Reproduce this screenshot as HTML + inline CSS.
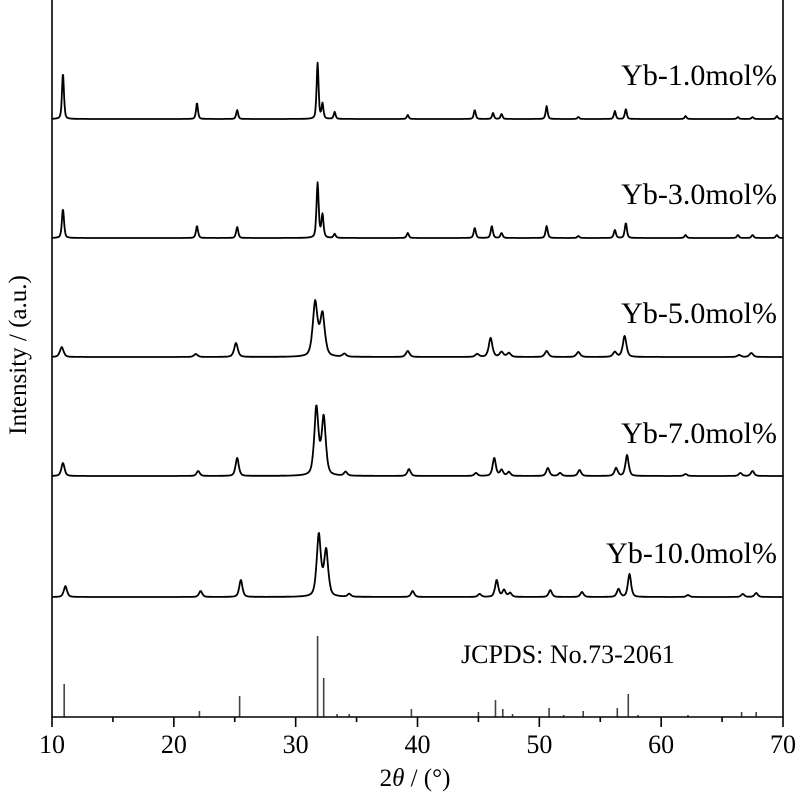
<!DOCTYPE html>
<html><head><meta charset="utf-8"><style>
html,body{margin:0;padding:0;background:#fff;}
svg{display:block;font-family:"Liberation Serif",serif;}
</style></head><body>
<svg id="chart" width="800" height="797" viewBox="0 0 800 797" xmlns="http://www.w3.org/2000/svg">
<g id="traces"></g>
<g id="refs"></g>
<g id="axes"></g>
<g id="labels"></g>
<text x="461" y="663" font-size="26" font-family="Liberation Serif,serif">JCPDS: No.73-2061</text>
<text x="415" y="786" text-anchor="middle" font-size="25" font-family="Liberation Serif,serif">2<tspan font-style="italic">θ</tspan> / (°)</text>
<text transform="translate(26,355) rotate(-90)" text-anchor="middle" font-size="25" font-family="Liberation Serif,serif">Intensity / (a.u.)</text>
</svg>
<script>
const xTicks=[10,20,30,40,50,60,70];
const xMinor=[15,25,35,45,55,65];
const sampleNames=["Yb-1.0mol%","Yb-3.0mol%","Yb-5.0mol%","Yb-7.0mol%","Yb-10.0mol%"];
const offsets=[119,238,357,476,597];
const labelY=[85,204,323,443,563];
const widths=[0.09,0.1,0.17,0.15,0.15];
const pos1=[10.9,21.9,25.2,31.8,32.2,33.2,39.2,44.7,46.2,46.9,50.6,53.2,56.2,57.1,62,66.3,67.5,69.5];
const h1=[46,16,9,56,15,7,4,9,6,5,13,2,8,10,3,2,2,3];
const pos2=[10.9,21.9,25.2,31.8,32.2,33.2,39.2,44.7,46.1,46.9,50.6,53.2,56.2,57.1,62,66.3,67.5,69.5];
const h2=[29,12,11,55,23,4,5,10,12,5,12,2,8,15,3,3,3,3];
const pos3=[10.8,21.8,25.1,31.6,32.2,34,39.2,44.9,46.0,46.9,47.5,50.6,53.2,56.2,57.0,66.4,67.4];
const h3=[10,3,14,54,42,3,6,3,19,5,4,6,5,5,21,2,4];
const pos4=[10.9,22,25.2,31.7,32.3,34.1,39.3,44.8,46.3,46.9,47.5,50.7,51.7,53.3,56.3,57.2,62,66.5,67.5];
const h4=[13,5,18,68,58,4,7,3,18,6,4,8,3,6,8,21,2,3,5];
const pos5=[11.1,22.2,25.5,31.9,32.5,34.4,39.6,45.1,46.5,47.1,47.6,50.9,53.5,56.5,57.4,62.2,66.7,67.8];
const h5=[11,6,17,62,46,3,6,3,17,7,4,7,5,8,23,2,3,4];
const peakPos=[pos1,pos2,pos3,pos4,pos5];
const peakH=[h1,h2,h3,h4,h5];
const refPos=[11.0,22.1,25.4,31.8,32.3,33.4,34.4,39.5,45.0,46.4,47.0,47.8,50.8,52.0,53.6,56.4,57.3,58.1,62.2,66.6,67.8];
const refH=[33,6,21,81,39,3,3,8,5,17,8,3,9,2,6,9,23,2,2,5,5];
const refBase=717;

const NS="http://www.w3.org/2000/svg";
const X0=52,X1=783,Y0=0,YB=717;
function xs(v){return X0+(v-10)/(70-10)*(X1-X0);}
function mk(t,a,p){const e=document.createElementNS(NS,t);for(const k in a)e.setAttribute(k,a[k]);p.appendChild(e);return e;}
const gT=document.getElementById('traces'),gR=document.getElementById('refs'),gA=document.getElementById('axes'),gL=document.getElementById('labels');

peakPos.forEach((ps,i)=>{
  let d="";
  for(let x=10;x<=70.001;x+=0.04){
    let y=0;
    ps.forEach((p,j)=>{const w=widths[i]*(p>30&&p<33&&i>=2?1.3:1);const u=(x-p)/w;y+=peakH[i][j]/(1+u*u*1.2)*0.6+peakH[i][j]*Math.exp(-u*u/2)*0.4;});
    d+=(d?"L":"M")+xs(x).toFixed(1)+","+(offsets[i]-y).toFixed(1);
  }
  const p=mk('path',{d:d,fill:'none',stroke:'#000','stroke-width':1.8,'stroke-linejoin':'round'},gT);
  
  
  const t=mk('text',{x:777,y:labelY[i],'text-anchor':'end','font-size':30},gL);
  t.textContent=sampleNames[i];
  
  
});
refPos.forEach((p,i)=>{
  const l=mk('line',{x1:xs(p),x2:xs(p),y1:refBase,y2:refBase-refH[i],stroke:'#444','stroke-width':1.6},gR);
  
  
});
const ax=mk('path',{d:`M${X0},${Y0}V${YB}H${X1}V${Y0}`,fill:'none',stroke:'#000','stroke-width':1.6},gA);


xTicks.forEach(v=>{
  const l=mk('line',{x1:xs(v),x2:xs(v),y1:YB,y2:YB+10,stroke:'#000','stroke-width':1.6},gA);
  
  
  const t=mk('text',{x:xs(v),y:753,'text-anchor':'middle','font-size':26},gA);
  t.textContent=v;
  
  
});
xMinor.forEach(v=>{
  const l=mk('line',{x1:xs(v),x2:xs(v),y1:YB,y2:YB+5,stroke:'#000','stroke-width':1.6},gA);
  
  
});
</script>
</body></html>
